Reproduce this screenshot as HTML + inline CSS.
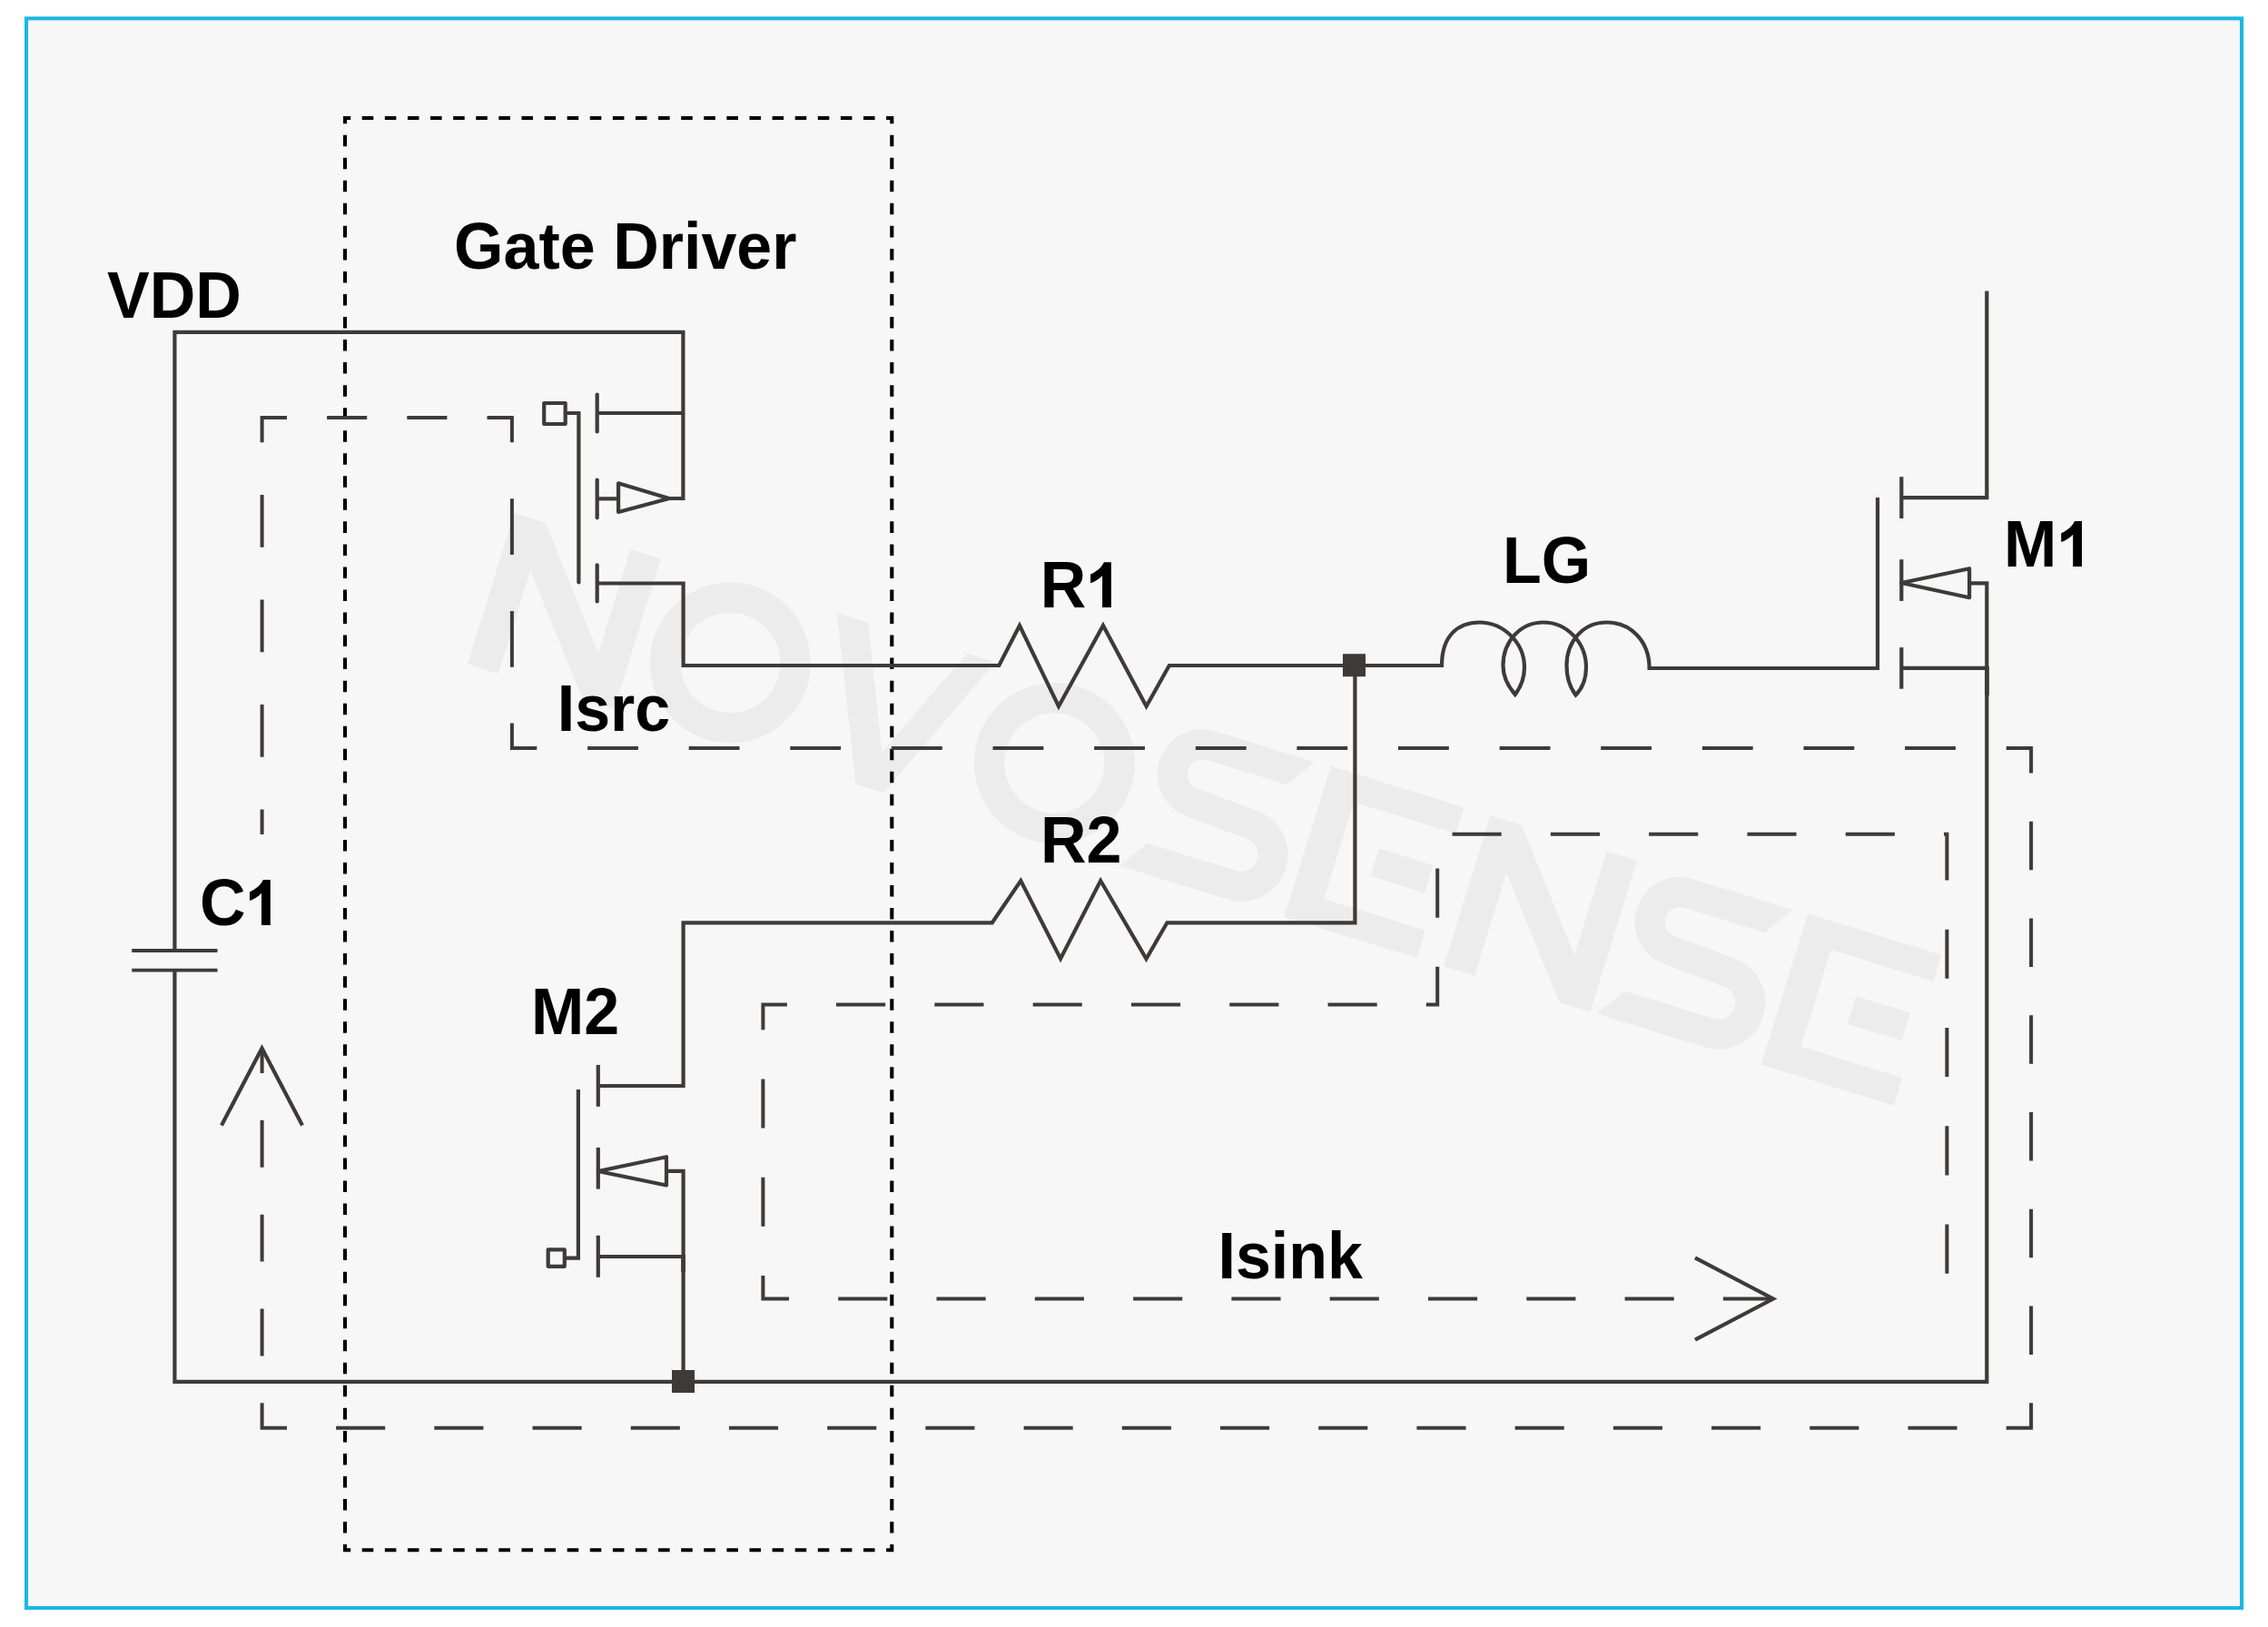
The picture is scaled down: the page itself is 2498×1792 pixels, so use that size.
<!DOCTYPE html><html><head><meta charset="utf-8"><style>html,body{margin:0;padding:0;background:#fff;}body{width:2498px;height:1792px;overflow:hidden;}</style></head><body><svg width="2498" height="1792" viewBox="0 0 2498 1792" style="display:block">
<rect x="0" y="0" width="2498" height="1792" fill="#ffffff"/>
<rect x="29" y="20.3" width="2440" height="1750.7" fill="#f7f7f7" stroke="#1cb8e1" stroke-width="4.1"/>
<g transform="translate(515,731.5) rotate(17.2)" fill="#ececec">
<polygon points="0,0 0,-174 36,-174 134,-54 134,-174 169,-174 169,0 133,0 35.5,-119 35.5,0"/>
<path d="M204.25,-87 a71.75,71.75 0 1 0 143.5,0 a71.75,71.75 0 1 0 -143.5,0" fill="none" stroke="#ececec" stroke-width="33.5"/>
<polygon points="372,-174 408,-174 464.5,-42.7 522,-174 554.4,-174 479.7,0 447.5,0"/>
<path d="M577.95,-87 a71.75,71.75 0 1 0 143.5,0 a71.75,71.75 0 1 0 -143.5,0" fill="none" stroke="#ececec" stroke-width="33.5"/>
<clipPath id="sclip752"><polygon points="652,-300 1008.2,-300 888.2,-120 1052,-120 1052,100 684.7,100 791.3,-60 652,-60"/></clipPath><path d="M952,-156.5 L809,-156.5 A33,33 0 0 0 809,-90.5 L876,-86.5 A35,35 0 0 1 876,-16.5 L702,-16.5" fill="none" stroke="#ececec" stroke-width="33" clip-path="url(#sclip752)"/>
<polygon points="941.5,0 941.5,-174 1095.3,-174 1095.3,-143.5 977.5,-143.5 977.5,-32 1094.3,-32 1094.3,0"/><polygon points="1019,-71 1081.5,-71 1081.5,-103 1019,-103"/>
<polygon points="1125.5,0 1125.5,-174 1161.5,-174 1259.5,-54 1259.5,-174 1294.5,-174 1294.5,0 1258.5,0 1161,-119 1161,0"/>
<clipPath id="sclip1302"><polygon points="1202.5,-300 1558.7,-300 1438.7,-120 1602.5,-120 1602.5,100 1235.2,100 1341.8,-60 1202.5,-60"/></clipPath><path d="M1502.5,-156.5 L1359.5,-156.5 A33,33 0 0 0 1359.5,-90.5 L1426.5,-86.5 A35,35 0 0 1 1426.5,-16.5 L1252.5,-16.5" fill="none" stroke="#ececec" stroke-width="33" clip-path="url(#sclip1302)"/>
<polygon points="1491.5,0 1491.5,-174 1645.3,-174 1645.3,-143.5 1527.5,-143.5 1527.5,-32 1644.3,-32 1644.3,0"/><polygon points="1569,-71 1631.5,-71 1631.5,-103 1569,-103"/>
</g>
<path d="M398.75,130 L411.3,130M423.85,130 L436.4,130M448.96,130 L461.51,130M474.06,130 L486.61,130M499.16,130 L511.71,130M524.26,130 L536.81,130M549.36,130 L561.91,130M574.47,130 L587.02,130M599.57,130 L612.12,130M624.67,130 L637.22,130M649.77,130 L662.32,130M674.87,130 L687.43,130M699.98,130 L712.53,130M725.08,130 L737.63,130M750.18,130 L762.73,130M775.28,130 L787.83,130M800.39,130 L812.94,130M825.49,130 L838.04,130M850.59,130 L863.14,130M875.69,130 L888.24,130M900.79,130 L913.34,130M925.9,130 L938.45,130M951,130 L963.55,130M982.3,148.72 L982.3,161.24M982.3,173.76 L982.3,186.28M982.3,198.8 L982.3,211.32M982.3,223.83 L982.3,236.35M982.3,248.87 L982.3,261.39M982.3,273.91 L982.3,286.43M982.3,298.95 L982.3,311.47M982.3,323.99 L982.3,336.51M982.3,349.03 L982.3,361.55M982.3,374.06 L982.3,386.58M982.3,399.1 L982.3,411.62M982.3,424.14 L982.3,436.66M982.3,449.18 L982.3,461.7M982.3,474.22 L982.3,486.74M982.3,499.26 L982.3,511.78M982.3,524.3 L982.3,536.81M982.3,549.33 L982.3,561.85M982.3,574.37 L982.3,586.89M982.3,599.41 L982.3,611.93M982.3,624.45 L982.3,636.97M982.3,649.49 L982.3,662.01M982.3,674.53 L982.3,687.04M982.3,699.56 L982.3,712.08M982.3,724.6 L982.3,737.12M982.3,749.64 L982.3,762.16M982.3,774.68 L982.3,787.2M982.3,799.72 L982.3,812.24M982.3,824.76 L982.3,837.28M982.3,849.79 L982.3,862.31M982.3,874.83 L982.3,887.35M982.3,899.87 L982.3,912.39M982.3,924.91 L982.3,937.43M982.3,949.95 L982.3,962.47M982.3,974.99 L982.3,987.51M982.3,1000.02 L982.3,1012.54M982.3,1025.06 L982.3,1037.58M982.3,1050.1 L982.3,1062.62M982.3,1075.14 L982.3,1087.66M982.3,1100.18 L982.3,1112.7M982.3,1125.22 L982.3,1137.74M982.3,1150.26 L982.3,1162.77M982.3,1175.29 L982.3,1187.81M982.3,1200.33 L982.3,1212.85M982.3,1225.37 L982.3,1237.89M982.3,1250.41 L982.3,1262.93M982.3,1275.45 L982.3,1287.97M982.3,1300.49 L982.3,1313M982.3,1325.52 L982.3,1338.04M982.3,1350.56 L982.3,1363.08M982.3,1375.6 L982.3,1388.12M982.3,1400.64 L982.3,1413.16M982.3,1425.68 L982.3,1438.2M982.3,1450.72 L982.3,1463.24M982.3,1475.75 L982.3,1488.27M982.3,1500.79 L982.3,1513.31M982.3,1525.83 L982.3,1538.35M982.3,1550.87 L982.3,1563.39M982.3,1575.91 L982.3,1588.43M982.3,1600.95 L982.3,1613.47M982.3,1625.98 L982.3,1638.5M982.3,1651.02 L982.3,1663.54M982.3,1676.06 L982.3,1688.58M963.55,1707.3 L951,1707.3M938.45,1707.3 L925.9,1707.3M913.34,1707.3 L900.79,1707.3M888.24,1707.3 L875.69,1707.3M863.14,1707.3 L850.59,1707.3M838.04,1707.3 L825.49,1707.3M812.94,1707.3 L800.39,1707.3M787.83,1707.3 L775.28,1707.3M762.73,1707.3 L750.18,1707.3M737.63,1707.3 L725.08,1707.3M712.53,1707.3 L699.98,1707.3M687.43,1707.3 L674.87,1707.3M662.32,1707.3 L649.77,1707.3M637.22,1707.3 L624.67,1707.3M612.12,1707.3 L599.57,1707.3M587.02,1707.3 L574.47,1707.3M561.91,1707.3 L549.36,1707.3M536.81,1707.3 L524.26,1707.3M511.71,1707.3 L499.16,1707.3M486.61,1707.3 L474.06,1707.3M461.51,1707.3 L448.96,1707.3M436.4,1707.3 L423.85,1707.3M411.3,1707.3 L398.75,1707.3M380,1688.58 L380,1676.06M380,1663.54 L380,1651.02M380,1638.5 L380,1625.98M380,1613.47 L380,1600.95M380,1588.43 L380,1575.91M380,1563.39 L380,1550.87M380,1538.35 L380,1525.83M380,1513.31 L380,1500.79M380,1488.27 L380,1475.75M380,1463.24 L380,1450.72M380,1438.2 L380,1425.68M380,1413.16 L380,1400.64M380,1388.12 L380,1375.6M380,1363.08 L380,1350.56M380,1338.04 L380,1325.52M380,1313 L380,1300.49M380,1287.97 L380,1275.45M380,1262.93 L380,1250.41M380,1237.89 L380,1225.37M380,1212.85 L380,1200.33M380,1187.81 L380,1175.29M380,1162.77 L380,1150.26M380,1137.74 L380,1125.22M380,1112.7 L380,1100.18M380,1087.66 L380,1075.14M380,1062.62 L380,1050.1M380,1037.58 L380,1025.06M380,1012.54 L380,1000.02M380,987.51 L380,974.99M380,962.47 L380,949.95M380,937.43 L380,924.91M380,912.39 L380,899.87M380,887.35 L380,874.83M380,862.31 L380,849.79M380,837.28 L380,824.76M380,812.24 L380,799.72M380,787.2 L380,774.68M380,762.16 L380,749.64M380,737.12 L380,724.6M380,712.08 L380,699.56M380,687.04 L380,674.53M380,662.01 L380,649.49M380,636.97 L380,624.45M380,611.93 L380,599.41M380,586.89 L380,574.37M380,561.85 L380,549.33M380,536.81 L380,524.3M380,511.78 L380,499.26M380,486.74 L380,474.22M380,461.7 L380,449.18M380,436.66 L380,424.14M380,411.62 L380,399.1M380,386.58 L380,374.06M380,361.55 L380,349.03M380,336.51 L380,323.99M380,311.47 L380,298.95M380,286.43 L380,273.91M380,261.39 L380,248.87M380,236.35 L380,223.83M380,211.32 L380,198.8M380,186.28 L380,173.76M380,161.24 L380,148.72M380,136.2 L380,130 L386.2,130M976.1,130 L982.3,130 L982.3,136.2M982.3,1701.1 L982.3,1707.3 L976.1,1707.3M386.2,1707.3 L380,1707.3 L380,1701.1" fill="none" stroke="#000000" stroke-width="4.1" stroke-linejoin="miter" stroke-linecap="butt"/>
<path d="M288.6,833.84 L288.6,776.09M288.6,718.33 L288.6,660.57M288.6,602.81 L288.6,545.06M360.1,459.9 L404.2,459.9M448.3,459.9 L492.4,459.9M563.9,549.16 L563.9,611.02M563.9,672.88 L563.9,734.74M647.11,824 L702.91,824M758.72,824 L814.53,824M870.33,824 L926.14,824M981.95,824 L1037.76,824M1093.56,824 L1149.37,824M1205.18,824 L1260.98,824M1316.79,824 L1372.6,824M1428.4,824 L1484.21,824M1540.02,824 L1595.82,824M1651.63,824 L1707.44,824M1763.24,824 L1819.05,824M1874.86,824 L1930.67,824M1986.47,824 L2042.28,824M2098.09,824 L2153.89,824M2237.1,904.78 L2237.1,958.15M2237.1,1011.53 L2237.1,1064.91M2237.1,1118.28 L2237.1,1171.66M2237.1,1225.04 L2237.1,1278.42M2237.1,1331.79 L2237.1,1385.17M2237.1,1438.55 L2237.1,1491.92M2155.59,1572.7 L2101.49,1572.7M2047.38,1572.7 L1993.28,1572.7M1939.17,1572.7 L1885.07,1572.7M1830.96,1572.7 L1776.85,1572.7M1722.75,1572.7 L1668.64,1572.7M1614.54,1572.7 L1560.43,1572.7M1506.33,1572.7 L1452.22,1572.7M1398.11,1572.7 L1344.01,1572.7M1289.9,1572.7 L1235.8,1572.7M1181.69,1572.7 L1127.59,1572.7M1073.48,1572.7 L1019.37,1572.7M965.27,1572.7 L911.16,1572.7M857.06,1572.7 L802.95,1572.7M748.85,1572.7 L694.74,1572.7M640.63,1572.7 L586.53,1572.7M532.42,1572.7 L478.32,1572.7M424.21,1572.7 L370.11,1572.7M288.6,1493.39 L288.6,1441.47M288.6,1389.56 L288.6,1337.64M288.6,1285.73 L288.6,1233.81M288.6,919 L288.6,891.6M288.6,487.3 L288.6,459.9 L316,459.9M536.5,459.9 L563.9,459.9 L563.9,487.3M563.9,796.6 L563.9,824 L591.3,824M2209.7,824 L2237.1,824 L2237.1,851.4M2237.1,1545.3 L2237.1,1572.7 L2209.7,1572.7M316,1572.7 L288.6,1572.7 L288.6,1545.3M288.6,1181.9 L288.6,1154.5" fill="none" stroke="#3e3a39" stroke-width="4.0" stroke-linejoin="miter" stroke-linecap="butt"/>
<polyline points="2144.4,1402.7 2144.4,918.7 1583.2,918.7 1583.2,1106.6 840.4,1106.6 840.4,1430.5 1952.5,1430.5" fill="none" stroke="#3e3a39" stroke-width="4.0" stroke-linejoin="miter" stroke-linecap="butt" stroke-dasharray="54.15 54.15"/>
<polyline points="244,1239.5 288.5,1154.5 333,1239.5" fill="none" stroke="#3e3a39" stroke-width="4.2" stroke-linejoin="miter" stroke-linecap="butt" />
<polyline points="1867,1385.3 1953,1430.5 1867,1475.7" fill="none" stroke="#3e3a39" stroke-width="4.2" stroke-linejoin="miter" stroke-linecap="butt" />
<polyline points="737,549 752.4,549 752.4,365.8 192.4,365.8 192.4,1047" fill="none" stroke="#3e3a39" stroke-width="4.2" stroke-linejoin="miter" stroke-linecap="butt" />
<polyline points="192.4,1068.7 192.4,1521.8 2188.3,1521.8 2188.3,642.3 2169.1,642.3" fill="none" stroke="#3e3a39" stroke-width="4.2" stroke-linejoin="miter" stroke-linecap="butt" />
<line x1="145.2" y1="1047" x2="239.5" y2="1047" stroke="#3e3a39" stroke-width="3.8" stroke-linecap="butt"/>
<line x1="145.2" y1="1068.7" x2="239.5" y2="1068.7" stroke="#3e3a39" stroke-width="3.8" stroke-linecap="butt"/>
<line x1="657.7" y1="434.5" x2="657.7" y2="475.5" stroke="#3e3a39" stroke-width="4.2" stroke-linecap="round"/>
<line x1="657.7" y1="528.5" x2="657.7" y2="570.3" stroke="#3e3a39" stroke-width="4.2" stroke-linecap="round"/>
<line x1="657.7" y1="622.3" x2="657.7" y2="662.4" stroke="#3e3a39" stroke-width="4.2" stroke-linecap="round"/>
<line x1="657.7" y1="455" x2="752.4" y2="455" stroke="#3e3a39" stroke-width="4.2" stroke-linecap="butt"/>
<line x1="657.7" y1="549.3" x2="681.1" y2="549.3" stroke="#3e3a39" stroke-width="4.2" stroke-linecap="butt"/>
<path d="M737,549 L681.1,532.3 L681.1,564 Z" fill="none" stroke="#3e3a39" stroke-width="4.2" stroke-linejoin="round"/>
<rect x="599.2" y="444" width="23.5" height="23" fill="none" stroke="#3e3a39" stroke-width="4.2" stroke-linejoin="round"/>
<polyline points="622.7,455 637.4,455 637.4,641.5" fill="none" stroke="#3e3a39" stroke-width="4.2" stroke-linejoin="miter" stroke-linecap="round" />
<rect x="1479" y="720.2" width="25" height="25" fill="#3e3a39"/>
<polyline points="1492.4,733 1492.4,1016.3 1285.5,1016.3 1262.5,1056 1212.2,970 1168.1,1056 1124.3,970 1092.8,1016.3 752.6,1016.3 752.6,1196 658.8,1196" fill="none" stroke="#3e3a39" stroke-width="4.2" stroke-linejoin="miter" stroke-linecap="butt" />
<path d="M657.7,642.5 L752.6,642.5 L752.6,733 L1100.3,733 L1123,689 L1166,778 L1215,689 L1262.6,778 L1287.8,733 L1588,733 C1588,700 1606,685.5 1629.5,685.5 C1656,685.5 1679,708 1679,735 C1679,749 1674,758 1668.8,765 C1661,756 1655.5,746 1655.5,733 C1655.5,706 1675,685.5 1700,685.5 C1726,685.5 1747,708 1747,735 C1747,749 1742,759 1735.5,765.5 C1729,757 1725.5,746 1725.5,733 C1725.5,706 1744,685.5 1769.5,685.5 C1796,685.5 1816.6,706 1816.6,736 L2068,736 L2068,548" fill="none" stroke="#3e3a39" stroke-width="4.2" stroke-linejoin="miter"/>
<polyline points="2188.3,320.4 2188.3,548.1 2094.3,548.1" fill="none" stroke="#3e3a39" stroke-width="4.2" stroke-linejoin="miter" stroke-linecap="butt" />
<line x1="2094.3" y1="525.2" x2="2094.3" y2="571" stroke="#3e3a39" stroke-width="4.2" stroke-linecap="butt"/>
<line x1="2094.3" y1="616.2" x2="2094.3" y2="661.9" stroke="#3e3a39" stroke-width="4.2" stroke-linecap="butt"/>
<line x1="2094.3" y1="713.1" x2="2094.3" y2="758.7" stroke="#3e3a39" stroke-width="4.2" stroke-linecap="butt"/>
<path d="M2094.3,642 L2169.1,626.2 L2169.1,658.2 Z" fill="none" stroke="#3e3a39" stroke-width="4.2" stroke-linejoin="round"/>
<line x1="2094.3" y1="735.9" x2="2188.3" y2="735.9" stroke="#3e3a39" stroke-width="4.2" stroke-linecap="butt"/>
<line x1="2188.5" y1="733.8" x2="2188.5" y2="765.8" stroke="#3e3a39" stroke-width="4.7" stroke-linecap="butt"/>
<line x1="658.8" y1="1172.9" x2="658.8" y2="1218.8" stroke="#3e3a39" stroke-width="4.2" stroke-linecap="butt"/>
<line x1="658.8" y1="1263.9" x2="658.8" y2="1309.6" stroke="#3e3a39" stroke-width="4.2" stroke-linecap="butt"/>
<line x1="658.8" y1="1360.8" x2="658.8" y2="1406.8" stroke="#3e3a39" stroke-width="4.2" stroke-linecap="butt"/>
<path d="M658.8,1290 L734,1274.2 L734,1305.5 Z" fill="none" stroke="#3e3a39" stroke-width="4.2" stroke-linejoin="round"/>
<polyline points="734,1289.8 752.6,1289.8 752.6,1521.8" fill="none" stroke="#3e3a39" stroke-width="4.2" stroke-linejoin="miter" stroke-linecap="butt" />
<line x1="658.8" y1="1384" x2="752.6" y2="1384" stroke="#3e3a39" stroke-width="4.2" stroke-linecap="butt"/>
<line x1="752.5" y1="1382" x2="752.5" y2="1400.6" stroke="#3e3a39" stroke-width="4.7" stroke-linecap="butt"/>
<polyline points="636.9,1199.9 636.9,1385.6 621.8,1385.6" fill="none" stroke="#3e3a39" stroke-width="4.2" stroke-linejoin="miter" stroke-linecap="butt" />
<rect x="603.7" y="1376.4" width="18.1" height="18.4" fill="none" stroke="#3e3a39" stroke-width="4.2" stroke-linejoin="round"/>
<rect x="740" y="1509" width="25" height="25" fill="#3e3a39"/>
<g font-family="Liberation Sans" font-weight="bold" font-size="70" fill="#000">
<text transform="matrix(1,0,0,1.022,118,350.2)">VDD</text>
<text transform="matrix(1,0,0,1.022,500.1,296)">Gate Driver</text>
<text transform="matrix(1,0,0,1.022,1145.7,669.1)">R</text>
<path transform="translate(1201.1,619.3)" d="M14.8,0 L22.8,0 L22.8,49.8 L13,49.8 L13,14.6 C9.5,18.5 4.5,21.3 0,23 L0,13.2 C6.5,10.7 12.5,5.5 14.8,0 Z" fill="#000"/>
<text transform="matrix(1,0,0,1.022,1655.1,642)">LG</text>
<text transform="matrix(1,0,0,1.022,2206.9,623.9)">M</text>
<path transform="translate(2270.2,574.1)" d="M14.8,0 L22.8,0 L22.8,49.8 L13,49.8 L13,14.6 C9.5,18.5 4.5,21.3 0,23 L0,13.2 C6.5,10.7 12.5,5.5 14.8,0 Z" fill="#000"/>
<text transform="matrix(1,0,0,1.022,613.7,805.2)">Isrc</text>
<text transform="matrix(1,0,0,1.022,1145.9,950.1)">R2</text>
<text transform="matrix(1,0,0,1.022,220.1,1018.9)">C</text>
<path transform="translate(275,969.1)" d="M14.8,0 L22.8,0 L22.8,49.8 L13,49.8 L13,14.6 C9.5,18.5 4.5,21.3 0,23 L0,13.2 C6.5,10.7 12.5,5.5 14.8,0 Z" fill="#000"/>
<text transform="matrix(1,0,0,1.022,585,1138.9)">M2</text>
<text transform="matrix(1,0,0,1.022,1341.5,1408)">Isink</text>
</g>
</svg></body></html>
